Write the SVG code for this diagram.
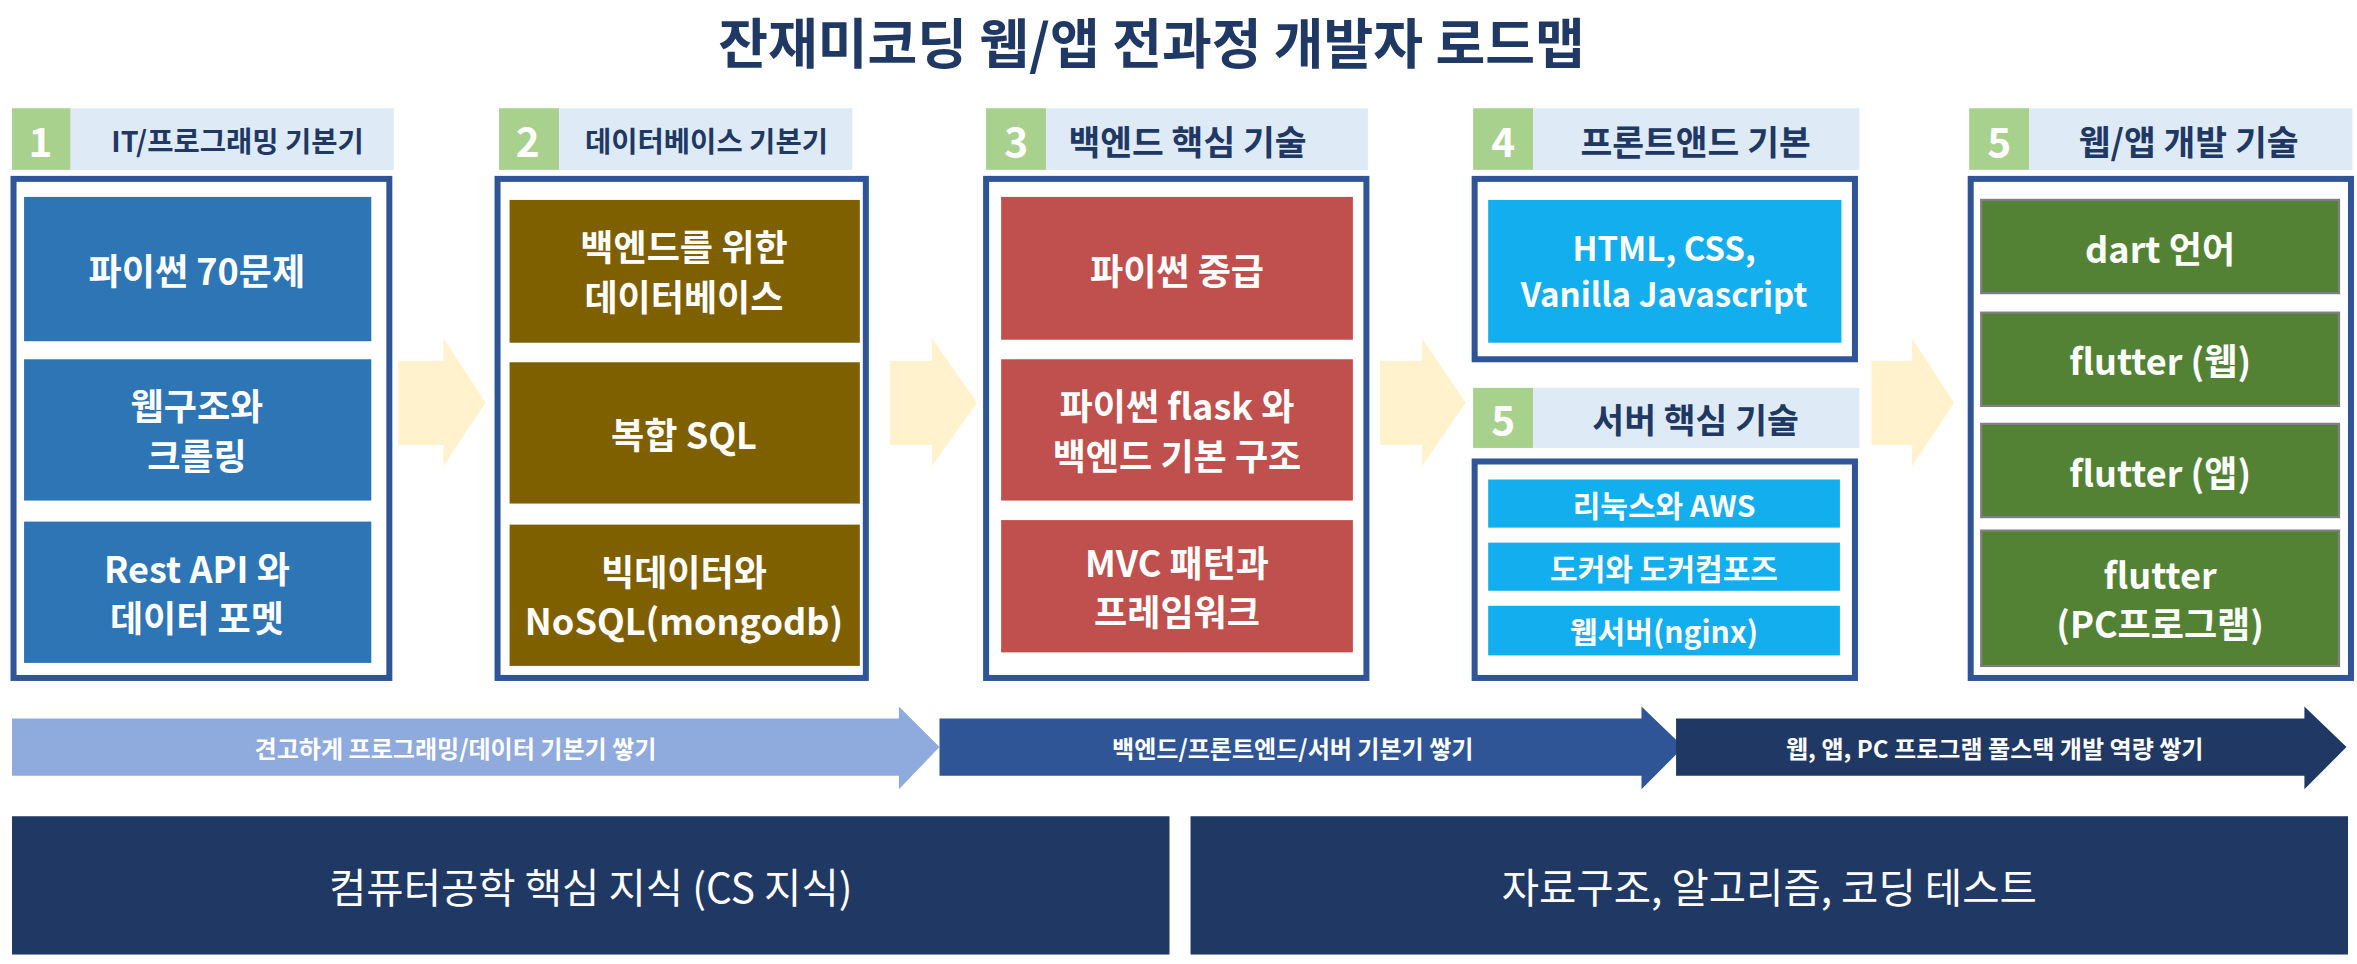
<svg xmlns="http://www.w3.org/2000/svg" width="2357" height="964" viewBox="0 0 2357 964">
<style>
text{font-family:"Noto Sans CJK KR","Noto Sans",sans-serif;font-weight:bold;text-anchor:middle;dominant-baseline:central}
.num{fill:#fff;font-size:27px}
.hd{fill:#1F3864;font-size:18px}
.bt{fill:#fff;font-size:24px}
.frame{fill:#fff;stroke:#2F5597;stroke-width:4}
.gn{fill:#A9D18E}.lb{fill:#DEEBF7}
.b1{fill:#2E75B6}.b2{fill:#7F6000}.b3{fill:#C0504D}.b4{fill:#12AEEE}.b5{fill:#548235;stroke:#7f7f7f;stroke-width:1.5}
.arr{fill:#FFF2CC}
.at{fill:#fff;font-size:16px}
.bb{fill:#fff;font-size:27px;font-weight:normal}
</style>
<rect width="2357" height="964" fill="#fff"/>
<g transform="scale(1.5032)">
<text x="766" y="27" style="fill:#1F3864;font-size:36px">잔재미코딩 웹/앱 전과정 개발자 로드맵</text>
<g id="connectors">
<polygon class="arr" points="265,240 295,240 295,225 323,268 295,310 295,296 265,296"/>
<polygon class="arr" points="592,240 620,240 620,225 650,268 620,310 620,296 592,296"/>
<polygon class="arr" points="918,240 946,240 946,225 975,268 946,310 946,296 918,296"/>
<polygon class="arr" points="1245,240 1272,240 1272,225 1300,268 1272,310 1272,296 1245,296"/>
</g>
<g id="col1">
<rect class="gn" x="8" y="72" width="39" height="41"/><rect class="lb" x="47" y="72" width="215" height="41"/>
<text class="num" x="27" y="93">1</text><text class="hd" x="158" y="93" style="font-size:19px">IT/프로그래밍 기본기</text>
<rect class="frame" x="9" y="119" width="250" height="332"/>
<rect class="b1" x="16" y="131" width="231" height="96"/><text class="bt" x="131" y="179">파이썬 70문제</text>
<rect class="b1" x="16" y="239" width="231" height="94"/><text class="bt" x="131" y="269">웹구조와</text><text class="bt" x="131" y="302">크롤링</text>
<rect class="b1" x="16" y="347" width="231" height="94"/><text class="bt" x="131" y="377">Rest API 와</text><text class="bt" x="131" y="410">데이터 포멧</text>
</g>
<g id="col2">
<rect class="gn" x="332" y="72" width="40" height="41"/><rect class="lb" x="372" y="72" width="195" height="41"/>
<text class="num" x="351" y="93">2</text><text class="hd" x="470" y="93" style="font-size:19px">데이터베이스 기본기</text>
<rect class="frame" x="331" y="119" width="245" height="332"/>
<rect class="b2" x="339" y="133" width="233" height="95"/><text class="bt" x="455" y="163">백엔드를 위한</text><text class="bt" x="455" y="196">데이터베이스</text>
<rect class="b2" x="339" y="241" width="233" height="94"/><text class="bt" x="455" y="288">복합 SQL</text>
<rect class="b2" x="339" y="349" width="233" height="94"/><text class="bt" x="455" y="379">빅데이터와</text><text class="bt" x="455" y="412">NoSQL(mongodb)</text>
</g>
<g id="col3">
<rect class="gn" x="656" y="72" width="40" height="41"/><rect class="lb" x="696" y="72" width="214" height="41"/>
<text class="num" x="676" y="93">3</text><text class="hd" x="790" y="93" style="font-size:23px">백엔드 핵심 기술</text>
<rect class="frame" x="656" y="119" width="253" height="332"/>
<rect class="b3" x="666" y="131" width="234" height="95"/><text class="bt" x="783" y="179">파이썬 중급</text>
<rect class="b3" x="666" y="239" width="234" height="94"/><text class="bt" x="783" y="269">파이썬 flask 와</text><text class="bt" x="783" y="302">백엔드 기본 구조</text>
<rect class="b3" x="666" y="346" width="234" height="88"/><text class="bt" x="783" y="373">MVC 패턴과</text><text class="bt" x="783" y="406">프레임워크</text>
</g>
<g id="col4">
<rect class="gn" x="980" y="72" width="40" height="41"/><rect class="lb" x="1020" y="72" width="217" height="41"/>
<text class="num" x="1000" y="93">4</text><text class="hd" x="1128" y="93" style="font-size:23px">프론트앤드 기본</text>
<rect class="frame" x="981" y="119" width="253" height="120"/>
<rect class="b4" x="990" y="133" width="235" height="95"/><text class="bt" x="1107" y="164" style="font-size:22px">HTML, CSS,</text><text class="bt" x="1107" y="195" style="font-size:22px">Vanilla Javascript</text>
</g>
<g id="col4b">
<rect class="gn" x="980" y="258" width="40" height="40"/><rect class="lb" x="1020" y="258" width="217" height="40"/>
<text class="num" x="1000" y="278">5</text><text class="hd" x="1128" y="278" style="font-size:23px">서버 핵심 기술</text>
<rect class="frame" x="981" y="307" width="253" height="144"/>
<rect class="b4" x="990" y="319" width="234" height="32"/><text class="bt" x="1107" y="335" style="font-size:20px">리눅스와 AWS</text>
<rect class="b4" x="990" y="361" width="234" height="32"/><text class="bt" x="1107" y="377" style="font-size:20px">도커와 도커컴포즈</text>
<rect class="b4" x="990" y="403" width="234" height="33"/><text class="bt" x="1107" y="419" style="font-size:20px">웹서버(nginx)</text>
</g>
<g id="col5">
<rect class="gn" x="1310" y="72" width="40" height="41"/><rect class="lb" x="1350" y="72" width="215" height="41"/>
<text class="num" x="1330" y="93">5</text><text class="hd" x="1456" y="93" style="font-size:23px">웹/앱 개발 기술</text>
<rect class="frame" x="1311" y="119" width="253" height="332"/>
<rect class="b5" x="1318" y="133" width="238" height="62"/><text class="bt" x="1437" y="164">dart 언어</text>
<rect class="b5" x="1318" y="208" width="238" height="62"/><text class="bt" x="1437" y="239">flutter (웹)</text>
<rect class="b5" x="1318" y="282" width="238" height="62"/><text class="bt" x="1437" y="313">flutter (앱)</text>
<rect class="b5" x="1318" y="353" width="238" height="90"/><text class="bt" x="1437" y="381">flutter</text><text class="bt" x="1437" y="414">(PC프로그램)</text>
</g>
<g id="phases">
<polygon fill="#8FAADC" points="8,478 598,478 598,470 625,497 598,525 598,516 8,516"/>
<text class="at" x="303" y="497">견고하게 프로그래밍/데이터 기본기 쌓기</text>
<polygon fill="#2F5597" points="625,478 1092,478 1092,470 1120,497 1092,525 1092,516 625,516"/>
<text class="at" x="860" y="497">백엔드/프론트엔드/서버 기본기 쌓기</text>
<polygon fill="#203864" points="1115,478 1533,478 1533,470 1561,497 1533,525 1533,516 1115,516"/>
<text class="at" x="1327" y="497">웹, 앱, PC 프로그램 풀스택 개발 역량 쌓기</text>
</g>
<g id="bottom">
<rect fill="#203864" x="8" y="543" width="770" height="92"/><text class="bb" x="393" y="589">컴퓨터공학 핵심 지식 (CS 지식)</text>
<rect fill="#203864" x="792" y="543" width="770" height="92"/><text class="bb" x="1177" y="589">자료구조, 알고리즘, 코딩 테스트</text>
</g>
</g>
</svg>
